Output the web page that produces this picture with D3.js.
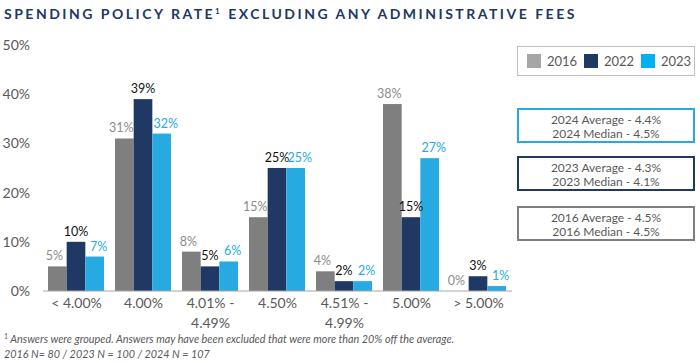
<!DOCTYPE html>
<html>
<head>
<meta charset="utf-8">
<script src="https://cdn.jsdelivr.net/npm/d3@7"></script>
<style>
  body { margin: 0; background: #fff; }
  svg { font-family: Lato, "Open Sans", sans-serif; }
</style>
</head>
<body>
<svg id="chart" width="700" height="363"></svg>
<script>
const categories = ["< 4.00%", "4.00%", "4.01% -|4.49%", "4.50%", "4.51% -|4.99%", "5.00%", "> 5.00%"];
const years = ["2016", "2022", "2023"];
const v2016 = [5, 31, 8, 15, 4, 38, 0];
const v2022 = [10, 39, 5, 25, 2, 15, 3];
const v2023 = [7, 32, 6, 25, 2, 27, 1];
const yTicks = [0, 10, 20, 30, 40, 50];
const statBoxes = [
  ["2024 Average - 4.4%", "2024 Median - 4.5%"],
  ["2023 Average - 4.3%", "2023 Median - 4.1%"],
  ["2016 Average - 4.5%", "2016 Median - 4.5%"]
];

const colors = ["#7f7f7f", "#203864", "#27aae1"];
const labelColors = ["#8c8c8c", "#111111", "#27aae1"];
const labelShift = [-3, 0, 4];
const boxColors = ["#27aae1", "#203864", "#7f7f7f"];

const svg = d3.select("#chart");

// title
const title = svg.append("text")
  .attr("x", 4).attr("y", 19)
  .attr("fill", "#203864")
  .style("font-size", "14px")
  .style("font-weight", "bold")
  .style("letter-spacing", "2.5px");
title.append("tspan").text("SPENDING POLICY RATE");
title.append("tspan").text("1").style("font-size", "8px").attr("dy", -5);
title.append("tspan").text(" EXCLUDING ANY ADMINISTRATIVE FEES").attr("dy", 5);

const x0 = d3.scaleBand().domain(categories).range([43, 512]);
const x1 = d3.scaleBand().domain(years).range([5, x0.bandwidth() - 6]);
const y = d3.scaleLinear().domain([0, 50]).range([291, 45]);

// y tick labels
svg.append("g").selectAll("text")
  .data(yTicks)
  .join("text")
  .attr("x", 30)
  .attr("y", d => y(d) + 5)
  .attr("text-anchor", "end")
  .attr("fill", "#595959")
  .style("font-size", "14px")
  .text(d => d + "%");

const series = [v2016, v2022, v2023];
const groups = svg.append("g").selectAll("g")
  .data(categories)
  .join("g")
  .attr("transform", d => `translate(${x0(d)},0)`);

groups.selectAll("rect")
  .data((d, i) => years.map((yr, j) => ({ yr, j, v: series[j][i] })))
  .join("rect")
  .attr("x", d => x1(d.yr))
  .attr("width", x1.bandwidth())
  .attr("y", d => y(d.v))
  .attr("height", d => y(0) - y(d.v))
  .attr("fill", d => colors[d.j]);

groups.selectAll("text.val")
  .data((d, i) => years.map((yr, j) => ({ yr, j, v: series[j][i] })))
  .join("text")
  .attr("class", "val")
  .attr("x", d => x1(d.yr) + x1.bandwidth() / 2 + labelShift[d.j])
  .attr("y", d => y(d.v) - 6)
  .attr("text-anchor", "middle")
  .attr("fill", d => labelColors[d.j])
  .style("font-size", "12.5px")
  .text(d => d.v + "%");

// baseline
svg.append("line")
  .attr("x1", 43).attr("x2", 512)
  .attr("y1", y(0)).attr("y2", y(0))
  .attr("stroke", "#a6a6a6").attr("stroke-width", 1.2);

// category labels
const catLab = svg.append("g").selectAll("text")
  .data(categories)
  .join("text")
  .attr("x", d => x0(d) + x0.bandwidth() / 2)
  .attr("y", 308)
  .attr("text-anchor", "middle")
  .attr("fill", "#595959")
  .style("font-size", "14px");
catLab.selectAll("tspan")
  .data(d => d.split("|"))
  .join("tspan")
  .attr("x", function () { return d3.select(this.parentNode).attr("x"); })
  .attr("dy", (d, i) => i === 0 ? 0 : 20)
  .text(d => d);

// legend
svg.append("rect")
  .attr("x", 517.5).attr("y", 46.5).attr("width", 177).attr("height", 29)
  .attr("fill", "#fff").attr("stroke", "#bfbfbf");
const legX = [527, 584, 641];
years.forEach((yr, j) => {
  svg.append("rect")
    .attr("x", legX[j]).attr("y", 54).attr("width", 14).attr("height", 14)
    .attr("fill", j === 0 ? "#a6a6a6" : j === 1 ? "#203864" : "#00b0f0");
  svg.append("text")
    .attr("x", legX[j] + 20).attr("y", 66)
    .attr("fill", "#595959")
    .style("font-size", "13px")
    .text(yr);
});

// stat boxes
const boxY = [109, 157, 207];
statBoxes.forEach((lines, i) => {
  svg.append("rect")
    .attr("x", 518).attr("y", boxY[i]).attr("width", 176).attr("height", 33)
    .attr("fill", "#fff").attr("stroke", boxColors[i]).attr("stroke-width", 2);
  lines.forEach((t, k) => {
    svg.append("text")
      .attr("x", 606).attr("y", boxY[i] + 15 + k * 14)
      .attr("text-anchor", "middle")
      .attr("fill", "#595959")
      .style("font-size", "12px")
      .text(t);
  });
});

// footnotes
const fn = svg.append("text")
  .attr("x", 4).attr("y", 343)
  .attr("fill", "#595959")
  .style("font-size", "10.8px")
  .style("font-style", "italic");
fn.append("tspan").text("1").style("font-size", "7px").attr("dy", -4);
fn.append("tspan").text(" Answers were grouped. Answers may have been excluded that were more than 20% off the average.").attr("dy", 4);
svg.append("text")
  .attr("x", 4).attr("y", 358)
  .attr("fill", "#595959")
  .style("font-size", "10.8px")
  .style("font-style", "italic")
  .text("2016 N= 80 / 2023 N = 100 / 2024 N = 107");
</script>
</body>
</html>
